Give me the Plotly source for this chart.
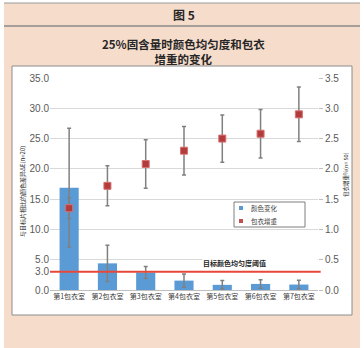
import plotly.graph_objects as go

categories = ["第1包衣室", "第2包衣室", "第3包衣室", "第4包衣室", "第5包衣室", "第6包衣室", "第7包衣室"]
colour_diff = [16.9, 4.4, 2.9, 1.55, 0.85, 1.0, 0.9]
colour_diff_err = [9.8, 3.0, 1.0, 1.1, 0.7, 0.7, 0.7]
weight_gain = [1.35, 1.72, 2.08, 2.30, 2.50, 2.58, 2.90]
weight_gain_err = [0.17, 0.33, 0.40, 0.40, 0.39, 0.40, 0.45]
left_ticks = [0, 3, 5, 10, 15, 20, 25, 30, 35]
right_ticks = [0, 0.5, 1.0, 1.5, 2.0, 2.5, 3.0, 3.5]
threshold = 3.0
series_names = ["颜色变化", "包衣增重"]

W, H = 364, 348
L, R, T, B = 50, 46, 78, 58
PW, PH = W - L - R, H - T - B

def xp(px):
    return (px - L) / PW

def yp(py):
    return (H - B - py) / PH

CJK = "Noto Sans CJK SC"
NUM = "Liberation Sans"
PEACH = "#f6dccb"
BLUE = "#5b9bd5"
RED = "#b23b3b"

fig = go.Figure()
fig.add_trace(go.Bar(
    x=categories, y=colour_diff, name=series_names[0],
    marker=dict(color=BLUE, line=dict(width=0)),
    error_y=dict(type="data", array=colour_diff_err, color="#808080", thickness=1.5, width=2),
    yaxis="y", showlegend=False,
))
fig.add_trace(go.Scatter(
    x=categories, y=weight_gain, name=series_names[1], mode="markers",
    marker=dict(symbol="square", size=7, color=RED, line=dict(color="#d77070", width=1)),
    error_y=dict(type="data", array=weight_gain_err, color="#808080", thickness=1.5, width=2),
    yaxis="y2", showlegend=False,
))

shapes = [
    dict(type="rect", xref="paper", yref="paper", x0=xp(4), x1=xp(360), y0=yp(3), y1=yp(348),
         fillcolor=PEACH, line=dict(width=0), layer="below"),
    dict(type="line", xref="paper", yref="paper", x0=xp(4), x1=xp(360), y0=yp(3), y1=yp(3),
         line=dict(color="#9a9a9a", width=1), layer="below"),
    dict(type="line", xref="paper", yref="paper", x0=xp(4), x1=xp(360), y0=yp(26), y1=yp(26),
         line=dict(color="#8a8a8a", width=1.5), layer="below"),
    dict(type="rect", xref="paper", yref="paper", x0=xp(12), x1=xp(352), y0=yp(66), y1=yp(315),
         fillcolor="white", line=dict(color="#8c8c8c", width=1), layer="below"),
    dict(type="line", xref="paper", yref="y", x0=0, x1=1.01, y0=threshold, y1=threshold,
         line=dict(color="#e8473a", width=2), layer="above"),
    # legend box
    dict(type="rect", xref="paper", yref="paper", x0=xp(234), x1=xp(305), y0=yp(202), y1=yp(227),
         fillcolor="white", line=dict(color="#7f7f7f", width=1), layer="above"),
    dict(type="rect", xref="paper", yref="paper", x0=xp(239), x1=xp(243), y0=yp(206), y1=yp(210),
         fillcolor=BLUE, line=dict(width=0), layer="above"),
    dict(type="rect", xref="paper", yref="paper", x0=xp(239), x1=xp(243), y0=yp(219), y1=yp(223),
         fillcolor="#c0504d", line=dict(width=0), layer="above"),
]

annotations = [
    dict(text="<b>图 5</b>", x=0.5, xref="paper", y=yp(15), yref="paper", showarrow=False,
         font=dict(family=CJK, size=12, color="#262626"), xanchor="center", yanchor="middle"),
    dict(text="<b>25%固含量时颜色均匀度和包衣<br>增重的变化</b>", x=xp(183), xref="paper", y=yp(51),
         yref="paper", showarrow=False, font=dict(family=CJK, size=11.5, color="#262626"),
         xanchor="center", yanchor="middle"),
    dict(text="与目标片相比的颜色差异ΔE(n=20)", x=xp(22), xref="paper", y=yp(192), yref="paper",
         textangle=-90, showarrow=False, font=dict(family=CJK, size=6, color="#262626"),
         xanchor="center", yanchor="middle"),
    dict(text="包衣增重%(n= 50)", x=xp(346), xref="paper", y=yp(175), yref="paper",
         textangle=-90, showarrow=False, font=dict(family=CJK, size=5.5, color="#262626"),
         xanchor="center", yanchor="middle"),
    dict(text="<b>目标颜色均匀度阈值</b>", x=xp(202), xref="paper", y=yp(262), yref="paper",
         showarrow=False, font=dict(family=CJK, size=7, color="#262626"),
         xanchor="left", yanchor="middle", bgcolor="white", width=114, height=11, align="left",
         borderpad=0, xshift=0),
    dict(text=series_names[0], x=xp(249), xref="paper", y=yp(208), yref="paper", showarrow=False,
         font=dict(family=CJK, size=6.5, color="#404040"), xanchor="left", yanchor="middle"),
    dict(text=series_names[1], x=xp(249), xref="paper", y=yp(221), yref="paper", showarrow=False,
         font=dict(family=CJK, size=6.5, color="#404040"), xanchor="left", yanchor="middle"),
]

fig.update_layout(
    width=W, height=H, autosize=False,
    margin=dict(l=L, r=R, t=T, b=B, pad=0),
    paper_bgcolor="white", plot_bgcolor="white",
    bargap=0.5,
    showlegend=False,
    xaxis=dict(showline=True, linecolor="#bfbfbf", linewidth=1, showgrid=False,
               tickfont=dict(family=CJK, size=7, color="#404040"), ticks="",
               range=[-0.5, 6.5]),
    yaxis=dict(range=[0, 35], tickvals=left_ticks, ticktext=[f"{v:.1f}" for v in left_ticks],
               showgrid=True, gridcolor="#d9d9d9", gridwidth=1, zeroline=False,
               tickfont=dict(family=NUM, size=10, color="#595959"), ticks="", showline=False),
    yaxis2=dict(range=[0, 3.5], overlaying="y", side="right", tickvals=right_ticks,
                ticktext=[f"{v:.1f}" for v in right_ticks], showgrid=False, zeroline=False,
                tickfont=dict(family=NUM, size=10, color="#595959"), ticks="outside",
                ticklen=4, tickcolor="#bfbfbf", showline=False),
    shapes=shapes,
    annotations=annotations,
)

fig.write_html("out.html")
